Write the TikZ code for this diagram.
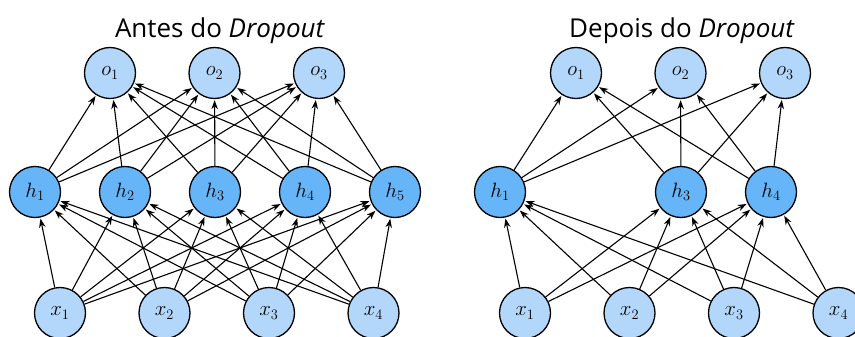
\documentclass[tikz,border=0pt]{standalone}
\usepackage{fontspec}
\setmainfont{Open Sans}
\usetikzlibrary{arrows.meta, positioning}
\definecolor{UnitLight}{HTML}{B3D7FA}
\definecolor{UnitHidden}{HTML}{66B5F8}

\begin{document}
\begin{tikzpicture}[x=1pt, y=-1pt, on grid, node distance=104.5pt,
  unit/.style={circle, draw, line width=1.3pt, minimum size=51pt, inner sep=0pt, font=\fontsize{22}{24}\selectfont},
  inp/.style={unit, fill=UnitLight},
  hid/.style={unit, fill=UnitHidden},
  conn/.style={-{Stealth[length=9pt, width=6.5pt]}, line width=1.1pt, shorten >=1pt},
  title/.style={anchor=base, font=\fontsize{26}{30}\selectfont}]

        \useasboundingbox (0,0) rectangle (855,337);

        % before dropout
        \node[title] (a-title) at (220,38) {Antes do \textit{Dropout}};
        \node[inp] (a-o1) at (110,73) {$o_1$};
        \node[inp, right=of a-o1] (a-o2) {$o_2$};
        \node[inp, right=of a-o2] (a-o3) {$o_3$};
        \node[hid] (a-h1) at (35,192) {$h_1$};
        \node[hid, right=90pt of a-h1] (a-h2) {$h_2$};
        \node[hid, right=90pt of a-h2] (a-h3) {$h_3$};
        \node[hid, right=90pt of a-h3] (a-h4) {$h_4$};
        \node[hid, right=90pt of a-h4] (a-h5) {$h_5$};
        \node[inp] (a-x1) at (60,313) {$x_1$};
        \node[inp, right=of a-x1] (a-x2) {$x_2$};
        \node[inp, right=of a-x2] (a-x3) {$x_3$};
        \node[inp, right=of a-x3] (a-x4) {$x_4$};

        % after dropout
        \node[title] (b-title) at (682,38) {Depois do \textit{Dropout}};
        \node[inp] (b-o1) at (576,73) {$o_1$};
        \node[inp, right=of b-o1] (b-o2) {$o_2$};
        \node[inp, right=of b-o2] (b-o3) {$o_3$};
        \node[hid] (b-h1) at (500,192) {$h_1$};
        \node[hid, right=181pt of b-h1] (b-h3) {$h_3$};
        \node[hid, right=90pt of b-h3] (b-h4) {$h_4$};
        \node[inp] (b-x1) at (525,313) {$x_1$};
        \node[inp, right=of b-x1] (b-x2) {$x_2$};
        \node[inp, right=of b-x2] (b-x3) {$x_3$};
        \node[inp, right=of b-x3] (b-x4) {$x_4$};

        \foreach \i in {1,...,4}
            \foreach \j in {1,...,5}
                \draw[conn] (a-x\i) -- (a-h\j);
        \foreach \j in {1,...,5}
            \foreach \k in {1,2,3}
                \draw[conn] (a-h\j) -- (a-o\k);
        \foreach \i in {1,...,4}
            \foreach \j in {1,3,4}
                \draw[conn] (b-x\i) -- (b-h\j);
        \foreach \j in {1,3,4}
            \foreach \k in {1,2,3}
                \draw[conn] (b-h\j) -- (b-o\k);

\end{tikzpicture}
\end{document}
